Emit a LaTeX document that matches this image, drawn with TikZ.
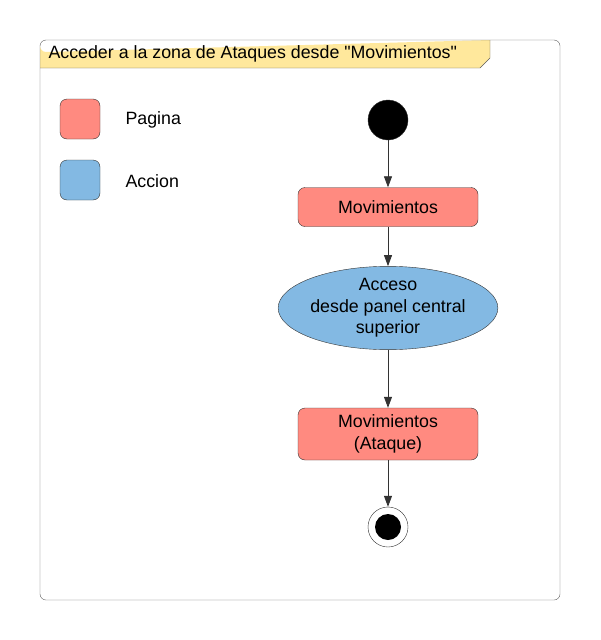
\documentclass[tikz,border=0pt]{standalone}
\usepackage{fontspec}
\setmainfont{Liberation Sans}
\usetikzlibrary{arrows.meta,positioning,shapes.geometric}

\definecolor{pagina}{RGB}{255,138,128}
\definecolor{accion}{RGB}{131,185,227}
\definecolor{nota}{RGB}{255,232,156}
\definecolor{linea}{RGB}{51,51,51}

\begin{document}
\begin{tikzpicture}[%
	x=1pt,y=-1pt,node distance=10pt,on grid,>={Triangle[length=11pt,width=8pt]},
	font=\fontsize{17.8}{21.5}\selectfont,
	caja/.style={draw=linea,rounded corners=7pt,fill=pagina,minimum width=180pt,align=center},
	muestra/.style={draw=linea,rounded corners=7pt,minimum size=40pt},
	flecha/.style={->,draw=linea,thick}]

	\useasboundingbox (0,0) rectangle (600,640);

	% marco y titulo
	\fill[nota] (40,68) -- (40,46) arc (180:90:6) -- (490,40) -- (490,58) -- (480,68) -- cycle;
	\draw[linea!80] (40,68) -- (480,68) -- (490,58) -- (490,40);
	\draw[linea!80,rounded corners=6pt] (40,40) rectangle (560,600);
	\node[anchor=west]	(titulo)	at (45,54)	{Acceder a la zona de Ataques desde \textquotedbl Movimientos\textquotedbl};

	% leyenda
	\node[muestra,fill=pagina]	(pag)	at (80,119)		{};
	\node[muestra,fill=accion]	(acc)	[below=61pt of pag]	{};
	\node[anchor=west]	(tpag)	at (122,120)	{Pagina};
	\node[anchor=west]	(tacc)	at (122,181)	{Accion};

	% flujo
	\node[circle,fill=black,draw=linea,minimum size=40pt]	(inicio)	at (388,120)	{};
	\node[caja,minimum height=39pt]	(mov)		[below=87pt of inicio]	{Movimientos};
	\node[ellipse,draw=linea,fill=accion,minimum width=218pt,minimum height=80pt,inner sep=0pt,align=center]
		(acceso)	[below=101pt of mov]	{Acceso\\desde panel central\\superior};
	\node[caja,minimum height=52pt]	(ataque)	[below=126pt of acceso]	{Movimientos\\(Ataque)};
	\node[circle,draw=linea,fill=white,minimum size=40pt,
		path picture={\fill[black] (path picture bounding box.center) circle (13pt);}]
		(fin)		[below=93pt of ataque]	{};

	\draw[flecha] (inicio) -- (mov);
	\draw[flecha] (mov) -- (acceso);
	\draw[flecha] (acceso) -- (ataque);
	\draw[flecha] (ataque) -- (fin);

\end{tikzpicture}
\end{document}
